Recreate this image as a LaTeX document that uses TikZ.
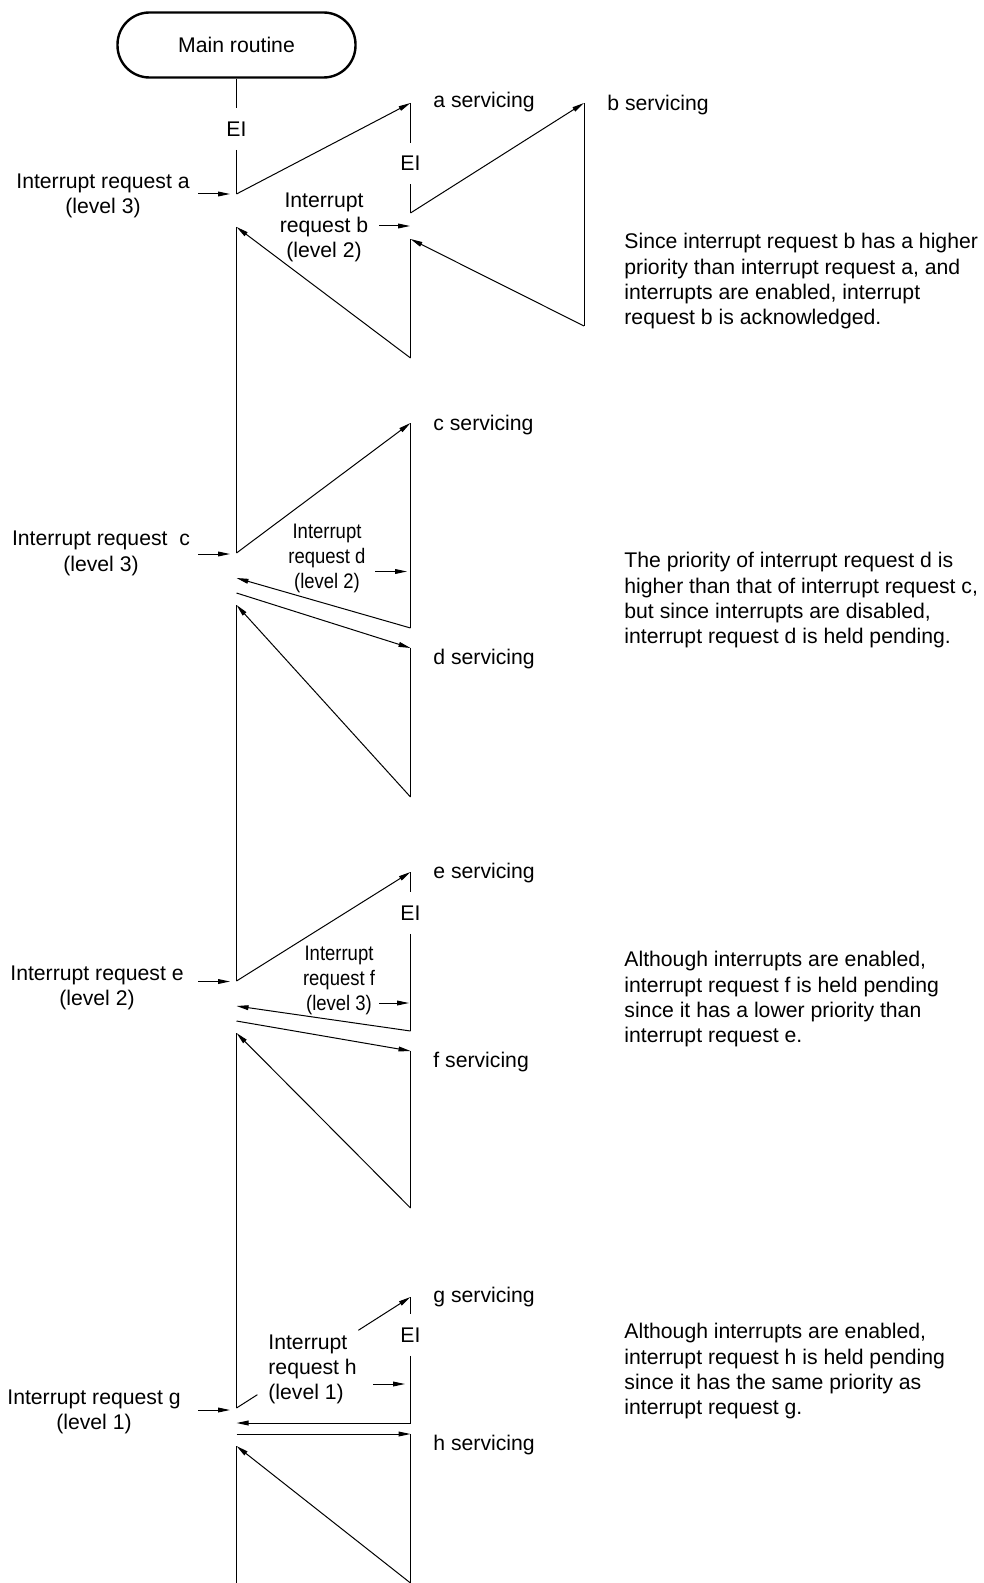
\documentclass[tikz,border=0pt]{standalone}
\usepackage{fontspec}
\setmainfont{Liberation Sans}
\newfontfamily\narrowfont[FakeStretch=0.88]{Liberation Sans}
\usetikzlibrary{arrows.meta,positioning,calc}

\begin{document}
\begin{tikzpicture}[x=0.5pt,y=-0.5pt,
    every node/.style={font=\fontsize{10.6}{12.65}\selectfont},
    line/.style={line width=0.5pt},
    flow/.style={line width=0.5pt,-{Triangle[length=6pt,width=2.4pt]}},
    term/.style={draw,line width=1.2pt,rounded corners=16pt,minimum width=119pt,minimum height=32.5pt,inner sep=0pt},
    ei/.style={inner sep=0pt,minimum height=20.5pt},
    lbl/.style={inner sep=0pt,align=center,yshift=-1.5pt},
    narrow/.style={font={\narrowfont\fontsize{10.5}{12.5}\selectfont}},
    note/.style={inner sep=0pt,align=left,anchor=west,yshift=-1.2pt},
    remark/.style={note,yshift=-2pt}]
    \useasboundingbox (0,0) rectangle (984,1583);
    \node[term] (main) at (236.5,45) {Main routine};
    \node[ei] (EI0) at (236.5,129) {EI};
    \node[ei] (EI1) at (410.5,163.5) {EI};
    \node[ei] (EI2) at (410.5,913) {EI};
    \node[ei] (EI3) at (410.5,1335) {EI};
    \foreach \n/\y in {1/194,2/227,3/553,4/578,5/593,6/605,7/981,8/1006,
                       9/1021,10/1033,11/1408,12/1423,13/1434,14/1446,15/1583}
      \coordinate (M\n) at (236.5,\y);
    \foreach \n/\y in {1/103,2/213,3/239,4/358,5/423,6/628,7/648,8/797,
                       9/872,10/1031,11/1051,12/1208,13/1297,14/1423,15/1434,16/1583}
      \coordinate (S\n) at (410.5,\y);
    \coordinate (T1) at (584,103);
    \coordinate (T2) at (584,326);
    \draw[line] (main) -- (EI0);
    \draw[line] (EI0) -- (M1);
    \draw[line] (S1) -- (EI1);
    \draw[line] (EI1) -- (S2);
    \draw[line] (S9) -- (EI2);
    \draw[line] (EI2) -- (S10);
    \draw[line] (S13) -- (EI3);
    \draw[line] (EI3) -- (S14);
    \foreach \a/\b in {T1/T2,S3/S4,M2/M3,S5/S6,S7/S8,M6/M7,S11/S12,M10/M11,S15/S16,M14/M15}
      \draw[line] (\a) -- (\b);
    \foreach \a/\b in {M1/S1,S2/T1,T2/S3,S4/M2,M3/S5,S6/M4,M5/S7,S8/M6,M7/S9,
                       S10/M8,M9/S11,S12/M10,S14/M12,M13/S15,S16/M14}
      \draw[flow] (\a) -- (\b);
    \draw[line] (M11) -- ($(M11)!0.12!(S13)$);
    \draw[flow] ($(M11)!0.7!(S13)$) -- (S13);
    \foreach \n/\xa/\xb/\y in {a/198/230/194,c/198/230/554,e/198/230/981.5,g/198/230/1410,
                               b/379/410/226,d/375/407/571.5,f/379/409/1003,h/373/405/1384} {
      \coordinate (in\n) at (\xa,\y);
      \coordinate (at\n) at (\xb,\y);
      \draw[flow] (in\n) -- (at\n);
    }
    \node[lbl] (IRa) at (103,193) {Interrupt request a\\(level 3)};
    \node[lbl] (IRc) at (101,550.5) {Interrupt request~ c\\(level 3)};
    \node[lbl] (IRe) at (97,984.7) {Interrupt request e\\(level 2)};
    \node[lbl] (IRg) at (94,1409) {Interrupt request g\\(level 1)};
    \node[lbl] (IRb) at (324,224.5) {Interrupt\\request b\\(level 2)};
    \node[lbl,narrow] (IRd) at (327,555) {Interrupt\\request d\\(level 2)};
    \node[lbl,narrow] (IRf) at (339,977) {Interrupt\\request f\\(level 3)};
    \node[note] (IRh) at (268,1367) {Interrupt\\request h\\(level 1)};
    \foreach \n/\x/\y in {a/433/100,b/607/103,c/433/423,d/433/657,e/433/871,f/433/1060,g/433/1295,h/433/1443}
      \node[note] (sv\n) at (\x,\y) {\n\ servicing};
    \node[remark] (N1) at (624,275) {Since interrupt request b has a higher\\priority than interrupt request a, and\\interrupts are enabled, interrupt\\request b is acknowledged.};
    \node[remark] (N2) at (624,594) {The priority of interrupt request d is\\higher than that of interrupt request c,\\but since interrupts are disabled,\\interrupt request d is held pending.};
    \node[remark] (N3) at (624,993) {Although interrupts are enabled,\\interrupt request f is held pending\\since it has a lower priority than\\interrupt request e.};
    \node[remark] (N4) at (624,1365) {Although interrupts are enabled,\\interrupt request h is held pending\\since it has the same priority as\\interrupt request g.};
\end{tikzpicture}
\end{document}
